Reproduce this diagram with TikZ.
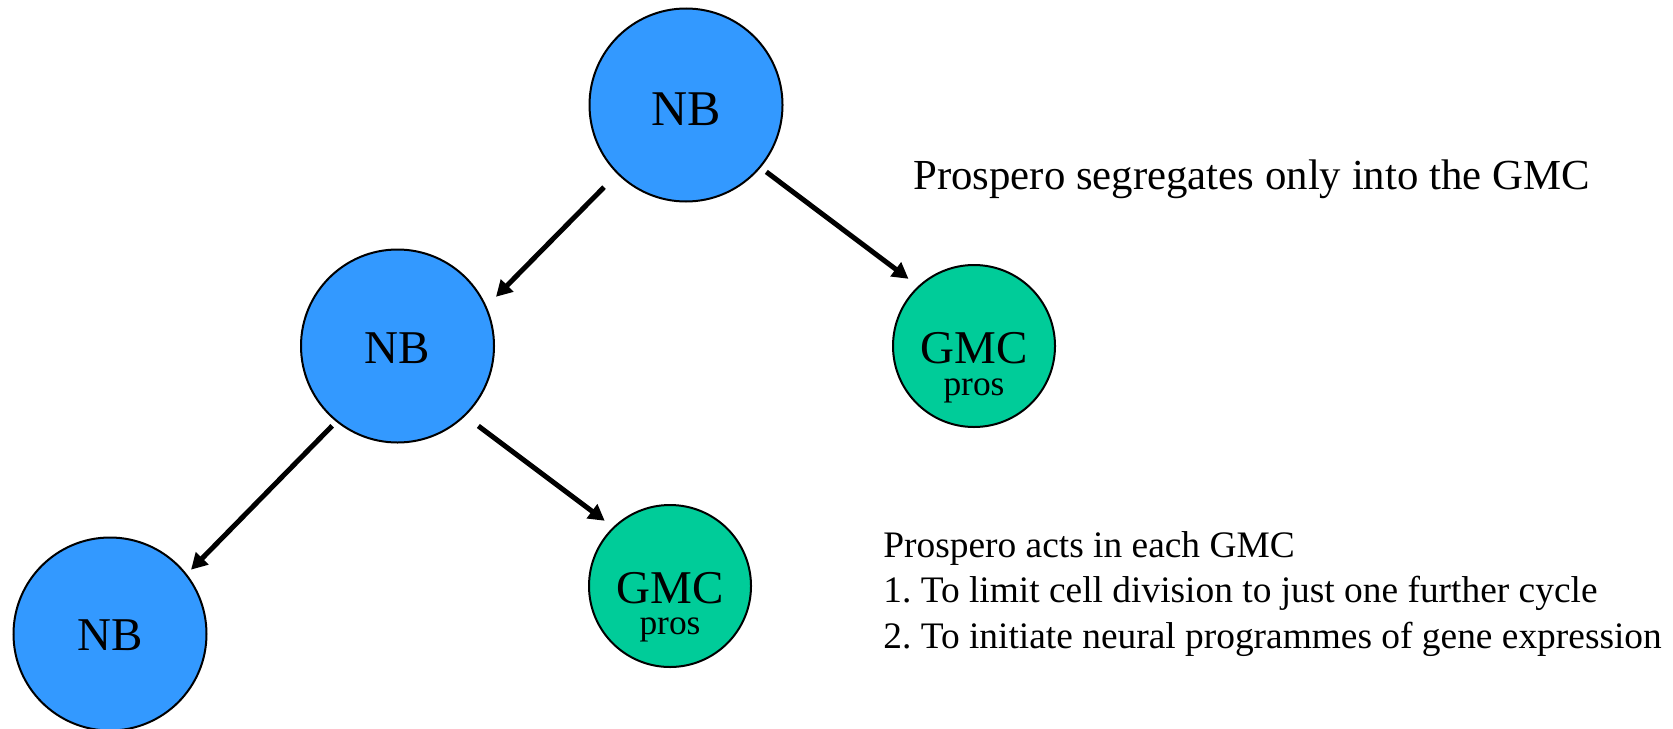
\documentclass[tikz,border=0pt]{standalone}
\usepackage{fontspec}
\setmainfont{Liberation Serif}
\usetikzlibrary{arrows.meta}
\definecolor{nbblue}{HTML}{3399FF}
\definecolor{gmcgreen}{HTML}{00CC99}
\frenchspacing
\begin{document}
\begin{tikzpicture}[x=0.5pt,y=-0.5pt,
  nbcell/.style={circle,draw=black,line width=1pt,fill=nbblue,minimum size=96.5pt,inner sep=0pt},
  gmccell/.style={circle,draw=black,line width=1pt,fill=gmcgreen,minimum size=81pt,inner sep=0pt},
  celltext/.style={inner sep=0pt,anchor=base},
  bigtext/.style={celltext,font=\fontsize{25}{30}\selectfont},
  nbtext/.style={celltext,font=\fontsize{23.5}{28}\selectfont},
  gmctext/.style={celltext,font=\fontsize{23.5}{28}\selectfont},
  prostext/.style={celltext,font=\fontsize{17.7}{21}\selectfont},
  arr/.style={line width=2.5pt,-{Triangle[length=8pt,width=8.5pt]}},
  note/.style={inner sep=0pt,anchor=base west},
  notetext/.style={note,font=\fontsize{18.7}{22}\selectfont}]
\useasboundingbox (0,0) rectangle (1673,728);

% cells
\node[nbcell] (nb1) at (686,105) {};
\node[nbcell] (nb2) at (397.5,346) {};
\node[nbcell] (nb3) at (110,634) {};
\node[gmccell] (gmc1) at (974,346) {};
\node[gmccell] (gmc2) at (670,586) {};

% cell labels
\node[bigtext] (nb1t) at (686,125) {NB};
\node[nbtext] (nb2t) at (397.5,363) {NB};
\node[nbtext] (nb3t) at (110,650) {NB};
\node[gmctext] (gmc1t) at (974,363) {GMC};
\node[prostext] (gmc1p) at (974,395) {pros};
\node[gmctext] (gmc2t) at (670,603) {GMC};
\node[prostext] (gmc2p) at (670,634) {pros};

% arrows
\draw[arr,shorten <=9.3pt,shorten >=6.7pt] (nb1.225.9) -- (nb2.24.2);
\draw[arr,shorten <=3.5pt,shorten >=6pt] (nb1.320.8) -- (gmc1.133.9);
\draw[arr,shorten <=2.85pt,shorten >=3pt] (nb2.231.9) -- (nb3.38.7);
\draw[arr,shorten <=8.2pt,shorten >=5.2pt] (nb2.314.3) -- (gmc2.134.2);

% texts
\node[note,font=\fontsize{21.4}{26}\selectfont] (seg) at (913,189) {Prospero segregates only into the GMC};
\node[notetext] (act0) at (883,557) {Prospero acts in each GMC};
\node[notetext] (act1) at (883,602) {1. To limit cell division to just one further cycle};
\node[notetext] (act2) at (883,648) {2. To initiate neural programmes of gene expression};
\end{tikzpicture}
\end{document}
